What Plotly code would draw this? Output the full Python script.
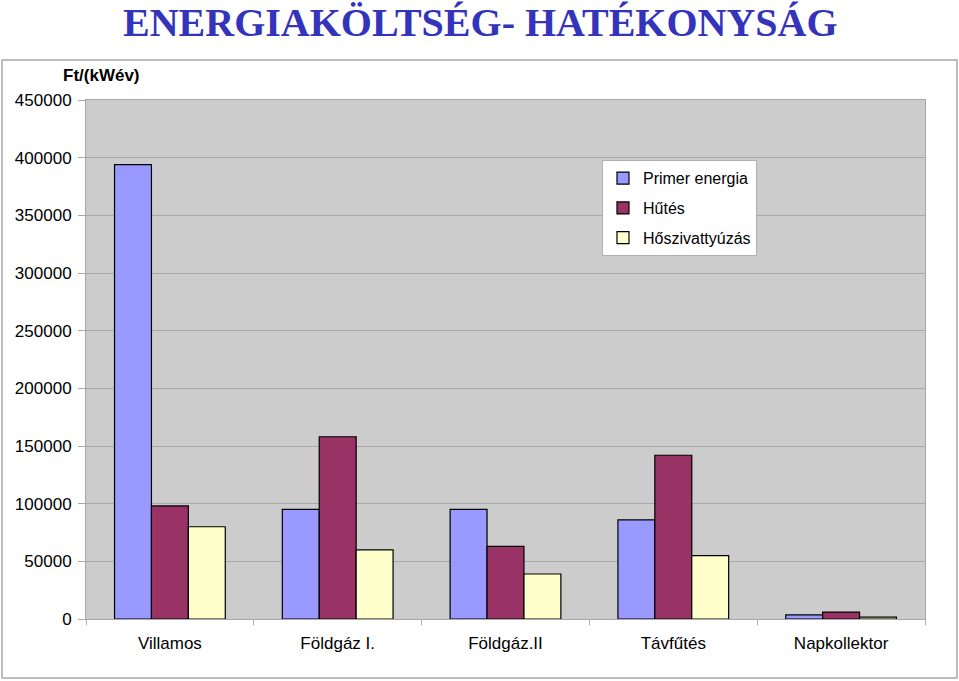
import plotly.graph_objects as go

categories = ["Villamos", "Földgáz I.", "Földgáz.II", "Távfűtés", "Napkollektor"]
primer = [394000, 95000, 95000, 86000, 3500]
hutes = [98000, 158000, 63000, 142000, 6000]
hoszi = [80000, 60000, 39000, 55000, 1700]
series_names = ["Primer energia", "Hűtés", "Hőszivattyúzás"]
colors = ["#9999FF", "#993366", "#FFFFCC"]
tick_vals = [0, 50000, 100000, 150000, 200000, 250000, 300000, 350000, 400000, 450000]

fig = go.Figure()
for i, (name, vals, col) in enumerate(zip(series_names, [primer, hutes, hoszi], colors)):
    fig.add_trace(go.Bar(
        x=categories, y=vals, name=name, legendgroup=f"g{i}",
        marker=dict(color=col, line=dict(color="black", width=1.2)),
    ))

fig.update_layout(
    width=959, height=681,
    margin=dict(l=86, r=34, t=100, b=62),
    paper_bgcolor="white",
    plot_bgcolor="#CCCCCC",
    barmode="group",
    bargap=0.34, bargroupgap=0,
    font=dict(family="Liberation Sans, Arial", size=16, color="black"),
    showlegend=True,
    legend=dict(
        x=0.615, y=0.884, xanchor="left", yanchor="top",
        bgcolor="white", bordercolor="#B0B0B0", borderwidth=1,
        font=dict(size=16, family="Liberation Sans, Arial"),
        traceorder="grouped", tracegroupgap=6, itemwidth=30,
    ),
    xaxis=dict(
        showgrid=False, showline=True, linecolor="#A8A8A8", linewidth=1,
        ticks="outside", tickson="boundaries", ticklen=5, tickcolor="#B0B0B0",
        tickfont=dict(size=17), mirror=True, ticklabelstandoff=9,
    ),
    yaxis=dict(
        range=[0, 450000], tickvals=tick_vals,
        ticktext=[str(v) for v in tick_vals],
        showgrid=True, gridcolor="#A8A8A8", gridwidth=1,
        showline=True, linecolor="#A8A8A8", linewidth=1, mirror=True,
        ticks="outside", ticklen=7, tickcolor="#A8A8A8",
        tickfont=dict(size=17), zeroline=False, ticklabelstandoff=3,
    ),
    shapes=[dict(
        type="rect", xref="paper", yref="paper",
        x0=-0.1001, x1=1.0381, y0=-0.1137, y1=1.0771,
        line=dict(color="#A8A8A8", width=1.5), fillcolor="rgba(0,0,0,0)", layer="below",
    )],
    annotations=[
        dict(text="<b>ENERGIAKÖLTSÉG- HATÉKONYSÁG</b>", xref="paper", yref="paper",
             x=(480 - 86) / 839, y=(619 - 23) / 519, xanchor="center", yanchor="middle",
             showarrow=False, font=dict(family="Liberation Serif", size=40, color="#3333BB")),
        dict(text="<b>Ft/(kWév)</b>", xref="paper", yref="paper",
             x=(101 - 86) / 839, y=(619 - 75) / 519, xanchor="center", yanchor="middle",
             showarrow=False, font=dict(family="Liberation Sans, Arial", size=17, color="black")),
    ],
)

fig.write_html("out.html")
